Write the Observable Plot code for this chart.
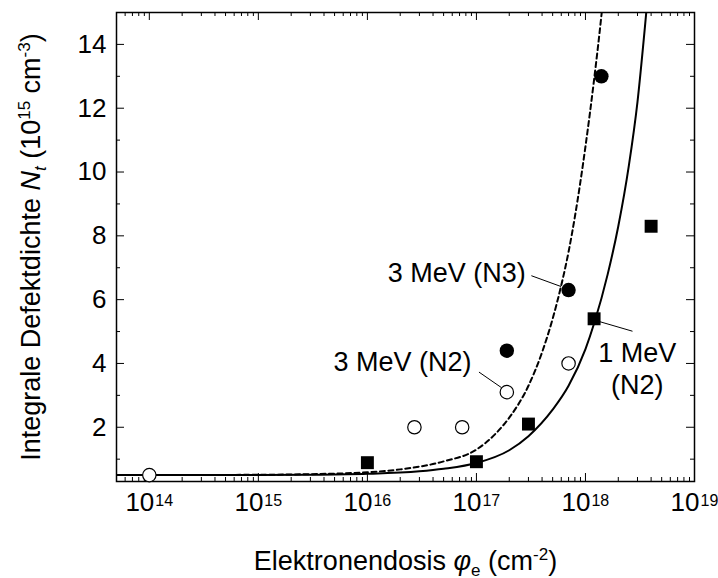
<!DOCTYPE html>
<html><head><meta charset="utf-8">
<script src="https://cdn.jsdelivr.net/npm/d3@7"></script>
<script src="https://cdn.jsdelivr.net/npm/@observablehq/plot@0.6"></script>
<style>
body{margin:0;background:#fff;}
#chart svg{display:block;}
</style>
</head><body><div id="chart"></div>
<script>
// ---- data ----
const squaresX = [1e16, 1e17, 3e17, 1.2e18, 4e18];        // 1 MeV (N2)
const squaresY = [0.89, 0.92, 2.1, 5.4, 8.3];
const filledX  = [1.9e17, 7e17, 1.4e18];                  // 3 MeV (N3)
const filledY  = [4.4, 6.3, 13.0];
const openX    = [1e14, 2.7e16, 7.4e16, 1.9e17, 7e17];    // 3 MeV (N2)
const openY    = [0.5, 2.0, 2.0, 3.1, 4.0];

// fitted curves
const fit1X = [5e13, 1e15, 3e15, 1e16, 3e16, 5e16, 1e17, 2e17, 3e17, 5e17, 7e17, 1e18, 1.2e18, 1.6e18, 2e18, 2.5e18, 3e18, 3.5e18, 3.7e18];
const fit1Y = [0.5, 0.5, 0.51, 0.54, 0.62, 0.70, 0.88, 1.28, 1.72, 2.55, 3.3, 4.45, 5.25, 6.8, 8.3, 10.2, 12.2, 14.5, 15.4];
const fit3X = [5e13, 1e15, 3e15, 1e16, 2e16, 5e16, 1e17, 1.5e17, 2e17, 3e17, 4e17, 5e17, 6e17, 7e17, 8e17, 1e18, 1.2e18, 1.41e18, 1.5e18];
const fit3Y = [0.5, 0.51, 0.53, 0.59, 0.68, 0.93, 1.3, 1.8, 2.3, 3.3, 4.35, 5.4, 6.45, 7.5, 8.6, 10.8, 12.9, 15.0, 15.9];

// axes
const xDomain = [5e13, 1e19];
const yDomain = [0.3, 15];
const xMajor = [1e14, 1e15, 1e16, 1e17, 1e18, 1e19];
const xExp   = ["14", "15", "16", "17", "18", "19"];
const yMajor = [2, 4, 6, 8, 10, 12, 14];
const yMinor = [1, 3, 5, 7, 9, 11, 13];
const xMinor = [];
for (let m = 6; m <= 9; m++) xMinor.push(m * 1e13);
for (let e = 14; e <= 18; e++) for (let m = 2; m <= 9; m++) xMinor.push(m * Math.pow(10, e));

// annotations (baseline positions in data units)
const endLabelText = ["3 MeV (N3)", "3 MeV (N2)"];
const endLabelX    = [2.83e17, 9.0e16];
const endLabelY    = [6.56, 3.75];
const midLabelText = ["1 MeV", "(N2)"];
const midLabelX    = [2.98e18, 2.98e18];
const midLabelY    = [4.05, 3.03];
const calloutX1 = [3.19e17, 1.055e17, 1.32e18];
const calloutY1 = [6.75, 3.73, 5.32];
const calloutX2 = [5.98e17, 1.70e17, 2.70e18];
const calloutY2 = [6.41, 3.24, 5.01];

// ---- build tables ----
const zip = (xs, ys) => xs.map((x, i) => ({x, y: ys[i]}));
const squares = zip(squaresX, squaresY);
const filled = zip(filledX, filledY);
const open = zip(openX, openY);
const fit1 = zip(fit1X, fit1Y);
const fit3 = zip(fit3X, fit3Y);
const endLabels = endLabelText.map((t, i) => ({t, x: endLabelX[i], y: endLabelY[i]}));
const midLabels = midLabelText.map((t, i) => ({t, x: midLabelX[i], y: midLabelY[i]}));
const callouts = calloutX1.map((x1, i) => ({x1, y1: calloutY1[i], x2: calloutX2[i], y2: calloutY2[i]}));

const W = 718, H = 578, mL = 116, mR = 24, mT = 12, mB = 97;
const iW = W - mL - mR, iH = H - mT - mB;
const maj = 8, mnr = 4;
const FONT = "Arial, 'Liberation Sans', Helvetica, sans-serif";
const TICK = 26, LAB = 27;

const chart = Plot.plot({
  width: W, height: H,
  marginLeft: mL, marginRight: mR, marginTop: mT, marginBottom: mB,
  style: {fontFamily: FONT, background: "white", color: "black", overflow: "visible"},
  x: {type: "log", domain: xDomain, axis: null},
  y: {domain: yDomain, axis: null},
  marks: [
    Plot.line(fit3, {x: "x", y: "y", curve: "monotone-x", stroke: "black", strokeWidth: 2, strokeDasharray: "5,3.5", clip: true}),
    Plot.line(fit1, {x: "x", y: "y", curve: "monotone-x", stroke: "black", strokeWidth: 2, clip: true}),
    Plot.link(callouts, {x1: "x1", y1: "y1", x2: "x2", y2: "y2", stroke: "black", strokeWidth: 1}),
    Plot.ruleX(xMajor, {insetTop: iH - maj, stroke: "black", strokeWidth: 1}),
    Plot.ruleX(xMajor, {insetBottom: iH - maj, stroke: "black", strokeWidth: 1}),
    Plot.ruleX(xMinor, {insetTop: iH - mnr, stroke: "black", strokeWidth: 1}),
    Plot.ruleX(xMinor, {insetBottom: iH - mnr, stroke: "black", strokeWidth: 1}),
    Plot.ruleY(yMajor, {insetRight: iW - maj, stroke: "black", strokeWidth: 1}),
    Plot.ruleY(yMajor, {insetLeft: iW - maj, stroke: "black", strokeWidth: 1}),
    Plot.ruleY(yMinor, {insetRight: iW - mnr, stroke: "black", strokeWidth: 1}),
    Plot.ruleY(yMinor, {insetLeft: iW - mnr, stroke: "black", strokeWidth: 1}),
    Plot.frame({stroke: "black", strokeWidth: 1.5}),
    Plot.dot(squares, {x: "x", y: "y", symbol: "square", r: 7.3, fill: "black", stroke: "none"}),
    Plot.dot(filled, {x: "x", y: "y", r: 7.2, fill: "black", stroke: "none"}),
    Plot.dot(open, {x: "x", y: "y", r: 6.7, fill: "white", stroke: "black", strokeWidth: 1.2}),
    Plot.text(yMajor, {y: d => d, frameAnchor: "left", text: d => String(d), textAnchor: "end", dx: -10, fontSize: TICK, fill: "black"}),
    Plot.text(xMajor, {x: d => d, frameAnchor: "bottom", text: () => "10", textAnchor: "end", lineAnchor: "bottom", dx: 5, dy: 29, fontSize: TICK, fill: "black"}),
    Plot.text(xMajor, {x: d => d, frameAnchor: "bottom", text: (d, i) => xExp[i], textAnchor: "start", lineAnchor: "bottom", dx: 6, dy: 24, fontSize: 16, fill: "black"}),
    Plot.text(endLabels, {x: "x", y: "y", text: "t", textAnchor: "end", lineAnchor: "bottom", fontSize: LAB, fill: "black"}),
    Plot.text(midLabels, {x: "x", y: "y", text: "t", textAnchor: "middle", lineAnchor: "bottom", fontSize: LAB, fill: "black"}),
    Plot.text(["x"], {frameAnchor: "bottom", text: () => "XTITLE", textAnchor: "middle", lineAnchor: "bottom", dy: 88, fontSize: LAB, fill: "black"}),
    Plot.text(["y"], {frameAnchor: "left", text: () => "YTITLE", textAnchor: "middle", lineAnchor: "bottom", rotate: -90, dx: -76.5, fontSize: LAB, fill: "black"})
  ]
});

function rich(textEl, parts) {
  if (!textEl) return;
  textEl.textContent = "";
  let shift = 0;
  for (const p of parts) {
    const ts = document.createElementNS("http://www.w3.org/2000/svg", "tspan");
    ts.textContent = p.t;
    const target = p.sup ? -10 : p.sub ? 6 : 0;
    if (target !== shift) { ts.setAttribute("dy", String(target - shift)); shift = target; }
    if (p.sup || p.sub) ts.setAttribute("font-size", "17");
    if (p.i) ts.setAttribute("font-style", "italic");
    textEl.appendChild(ts);
  }
}
const findText = s => Array.from(chart.querySelectorAll("text")).find(t => t.textContent === s);
rich(findText("XTITLE"), [{t: "Elektronendosis "}, {t: "φ", i: true}, {t: "e", sub: true}, {t: " (cm"}, {t: "-2", sup: true}, {t: ")"}]);
rich(findText("YTITLE"), [{t: "Integrale Defektdichte "}, {t: "N", i: true}, {t: "t", sub: true, i: true}, {t: " (10"}, {t: "15", sup: true}, {t: " cm"}, {t: "-3", sup: true}, {t: ")"}]);

document.getElementById("chart").appendChild(chart);
</script>
</body></html>
